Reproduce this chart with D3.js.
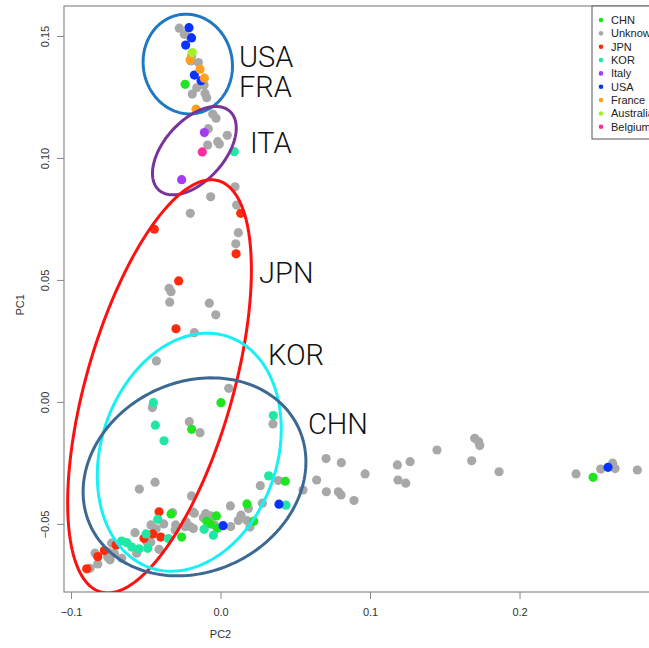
<!DOCTYPE html>
<html>
<head>
<meta charset="utf-8">
<script src="https://cdn.jsdelivr.net/npm/d3@7"></script>
<style>
  body { margin: 0; background: #fff; }
  svg { display: block; font-family: "Liberation Sans", Arial, sans-serif; }
</style>
</head>
<body>
<div id="chart"></div>
<script>
// groups in legend order
const groups = ["CHN", "Unknown", "JPN", "KOR", "Italy", "USA", "France", "Australia", "Belgium"];
const groupColors = ["#1ee61e", "#a8a8a8", "#ff2a0a", "#1ee8a4", "#a43cf0", "#0a32ff", "#ffa01e", "#a6f028", "#ff2ea0"];

// PC2 (x) / PC1 (y) per group
const chnPC2 = [-0.0237, 0.0003, -0.0193, 0.0433, 0.0177, -0.0028, -0.0092, 0.0222, -0.0068, -0.0021, -0.0260, -0.0331, 0.2492];
const chnPC1 = [0.1304, -0.0001, -0.0110, -0.0323, -0.0416, -0.0465, -0.0487, -0.0487, -0.0498, -0.0516, -0.0552, -0.0457, -0.0307];

const unkPC2 = [-0.0276, -0.0242, -0.0204, -0.0193, -0.0197, -0.0148, -0.0110, -0.0159, -0.0189, -0.0104, -0.0092, -0.0052, -0.0030, -0.0082, 0.0045, -0.0019, -0.0008, -0.0086, 0.0097, -0.0066,
  0.0108, -0.0202, 0.0119, 0.0102, -0.0344, -0.0331, -0.0340, -0.0075, -0.0032, -0.0175, -0.0429, -0.0456, 0.0055, -0.0209, -0.0137, 0.0351, 0.0387, 0.0266, 0.0643, 0.0552,
  -0.0194, 0.0066, 0.0186, 0.0280, -0.0184, -0.0099, -0.0066, 0.0137, -0.0115, 0.0119, 0.0177, -0.0231, -0.0041, 0.0068, -0.0182, -0.0204, 0.0197, -0.0237, -0.0543, -0.0438,
  -0.0320, -0.0380, -0.0465, -0.0431, -0.0300, -0.0304, -0.0175, -0.0572, -0.0494, -0.0728, -0.0467, -0.0411, -0.0561, -0.0661, -0.0710, -0.0744, -0.0755, -0.0839, -0.0821, -0.0873,
  -0.0739, 0.0706, 0.0808, 0.0708, 0.0788, 0.0806, 0.0893, 0.0967, 0.1183, 0.1268, 0.1187, 0.1239, 0.1448, 0.1700, 0.1727, 0.1734, 0.1680, 0.1863, 0.2378, 0.2543,
  0.2623, 0.2639, 0.2788];
const unkPC1 = [0.1534, 0.1509, 0.1498, 0.1421, 0.1400, 0.1393, 0.1301, 0.1290, 0.1264, 0.1267, 0.1249, 0.1182, 0.1165, 0.1122, 0.1095, 0.1069, 0.1059, 0.1055, 0.0884, 0.0843,
  0.0809, 0.0775, 0.0696, 0.0650, 0.0468, 0.0454, 0.0411, 0.0407, 0.0359, 0.0286, 0.0170, -0.0021, 0.0058, -0.0079, -0.0124, -0.0088, -0.0320, -0.0341, -0.0318, -0.0359,
  -0.0383, -0.0424, -0.0435, -0.0413, -0.0450, -0.0456, -0.0465, -0.0462, -0.0473, -0.0484, -0.0484, -0.0489, -0.0502, -0.0509, -0.0517, -0.0509, -0.0511, -0.0509, -0.0355, -0.0327,
  -0.0452, -0.0498, -0.0502, -0.0518, -0.0502, -0.0523, -0.0454, -0.0534, -0.0570, -0.0577, -0.0573, -0.0602, -0.0618, -0.0639, -0.0618, -0.0616, -0.0634, -0.0618, -0.0662, -0.0680,
  -0.0645, -0.0230, -0.0247, -0.0366, -0.0366, -0.0379, -0.0402, -0.0293, -0.0256, -0.0243, -0.0318, -0.0331, -0.0195, -0.0147, -0.0161, -0.0177, -0.0239, -0.0284, -0.0293, -0.0273,
  -0.0249, -0.0271, -0.0277];

const jpnPC2 = [0.0135, -0.0443, 0.0104, -0.0280, -0.0298, -0.0411, -0.0454, -0.0400, -0.0512, -0.0699, -0.0777, -0.0821, -0.0895];
const jpnPC1 = [0.0775, 0.0710, 0.0609, 0.0498, 0.0302, -0.0448, -0.0539, -0.0552, -0.0557, -0.0584, -0.0607, -0.0632, -0.0682];

const korPC2 = [0.0092, -0.0449, -0.0436, -0.0378, 0.0353, 0.0322, 0.0438, -0.0110, -0.0048, -0.0420, -0.0498, -0.0349, -0.0661, -0.0627, -0.0594, -0.0545, -0.0487];
const korPC1 = [0.1028, -0.0001, -0.0093, -0.0157, -0.0054, -0.0301, -0.0421, -0.0520, -0.0544, -0.0479, -0.0539, -0.0558, -0.0568, -0.0575, -0.0593, -0.0600, -0.0598];

const itaPC2 = [-0.0108, -0.0260];
const itaPC1 = [0.1106, 0.0913];

const usaPC2 = [-0.0211, -0.0194, -0.0233, -0.0175, -0.0130, 0.0391, 0.0017, 0.2592];
const usaPC1 = [0.1536, 0.1494, 0.1465, 0.1342, 0.1319, -0.0417, -0.0505, -0.0266];

const fraPC2 = [-0.0204, -0.0137, -0.0108, -0.0164];
const fraPC1 = [0.1404, 0.1366, 0.1329, 0.1202];

const ausPC2 = [-0.0189];
const ausPC1 = [0.1434];

const belPC2 = [-0.0122];
const belPC1 = [0.1027];

// ellipses: centre and two semi-axis vectors, in data units
const ellipseNames = ["USA", "ITA", "JPN", "KOR", "CHN"];
const ellipseColors = ["#1f78c1", "#7a3399", "#ff1010", "#19f0f5", "#3c6894"];
const ellipseCenters = [[-0.0219, 0.1387], [-0.0175, 0.1032], [-0.0408, 0.0066], [-0.0209, -0.0204], [-0.0174, -0.0305]];
const ellipseAxisU = [[-0.00582, 0.02018], [0.02372, 0.01614], [0.03943, 0.08427], [0.02589, 0.04741], [0.06914, 0.02066]];
const ellipseAxisV = [[0.02932, 0.00317], [0.01491, -0.00823], [0.04713, -0.00828], [0.05582, -0.01144], [0.02780, -0.03492]];

// text labels next to the ellipses
const labelTexts = ["USA", "FRA", "ITA", "JPN", "KOR", "CHN"];
const labelPC2 = [0.0124, 0.0124, 0.0197, 0.0258, 0.0318, 0.0585];
const labelPC1 = [0.1376, 0.1253, 0.1023, 0.0488, 0.0154, -0.0129];

const xTicks = [-0.1, 0.0, 0.1, 0.2];
const yTicks = [-0.05, 0.00, 0.05, 0.10, 0.15];

const width = 649, height = 648;
const margin = { left: 64, top: 6 };
const plotW = 640, plotH = 586;

const x = d3.scaleLinear().domain([-0.1047, 0.3234]).range([margin.left, margin.left + plotW]);
const y = d3.scaleLinear().domain([-0.0777, 0.1625]).range([margin.top + plotH, margin.top]);

const svg = d3.select("#chart").append("svg")
    .attr("width", width)
    .attr("height", height)
    .attr("viewBox", [0, 0, width, height]);

svg.append("rect").attr("width", width).attr("height", height).attr("fill", "#fff");

svg.append("clipPath").attr("id", "plot-clip")
  .append("rect")
    .attr("x", margin.left).attr("y", margin.top)
    .attr("width", plotW).attr("height", plotH);

// axes
const xAxis = svg.append("g")
    .attr("transform", `translate(0,${margin.top + plotH})`)
    .call(d3.axisBottom(x).tickValues(xTicks).tickFormat(d3.format(".1f")).tickSize(7).tickSizeOuter(0));
const yAxis = svg.append("g")
    .attr("transform", `translate(${margin.left},0)`)
    .call(d3.axisLeft(y).tickValues(yTicks).tickFormat(d3.format(".2f")).tickSize(7).tickSizeOuter(0));

[xAxis, yAxis].forEach(g => {
  g.select(".domain").remove();
  g.selectAll("line").attr("stroke", "#8a8a8a");
  g.selectAll("text").attr("fill", "#333").attr("font-size", 11);
});
xAxis.selectAll("text").attr("dy", null).attr("y", 24);
yAxis.selectAll("text")
    .attr("text-anchor", "middle")
    .attr("x", null).attr("dy", null)
    .attr("transform", d => `translate(-15,${y(d)}) rotate(-90)`)
    .attr("y", 0);
yAxis.selectAll(".tick").attr("transform", null);
yAxis.selectAll(".tick line").attr("y1", d => y(d)).attr("y2", d => y(d));

// frame
svg.append("rect")
    .attr("x", margin.left).attr("y", margin.top)
    .attr("width", plotW).attr("height", plotH)
    .attr("fill", "none").attr("stroke", "#8a8a8a").attr("stroke-width", 1.2);

svg.append("text").attr("x", x(0.0)).attr("y", 638)
    .attr("text-anchor", "middle").attr("font-size", 11).attr("fill", "#333").text("PC2");
svg.append("text").attr("transform", `translate(24,${y(0.04)}) rotate(-90)`)
    .attr("text-anchor", "middle").attr("font-size", 11).attr("fill", "#333").text("PC1");

const plot = svg.append("g").attr("clip-path", "url(#plot-clip)");

// points
const pc2s = [chnPC2, unkPC2, jpnPC2, korPC2, itaPC2, usaPC2, fraPC2, ausPC2, belPC2];
const pc1s = [chnPC1, unkPC1, jpnPC1, korPC1, itaPC1, usaPC1, fraPC1, ausPC1, belPC1];
const points = [];
groups.forEach((g, gi) => {
  pc2s[gi].forEach((v, i) => points.push({ group: g, color: groupColors[gi], pc2: v, pc1: pc1s[gi][i] }));
});
// unknown samples go underneath the labelled ones
points.sort((a, b) => (b.group === "Unknown") - (a.group === "Unknown"));

plot.selectAll("circle.pt")
  .data(points)
  .join("circle")
    .attr("class", "pt")
    .attr("cx", d => x(d.pc2))
    .attr("cy", d => y(d.pc1))
    .attr("r", 4.6)
    .attr("fill", d => d.color);

// ellipses
const ellipseLine = d3.line().curve(d3.curveLinearClosed);
const angles = d3.range(0, 2 * Math.PI, Math.PI / 90);
ellipseNames.forEach((name, i) => {
  const c = ellipseCenters[i], u = ellipseAxisU[i], v = ellipseAxisV[i];
  const pts = angles.map(t => [
    x(c[0] + u[0] * Math.cos(t) + v[0] * Math.sin(t)),
    y(c[1] + u[1] * Math.cos(t) + v[1] * Math.sin(t))
  ]);
  plot.append("path")
      .attr("d", ellipseLine(pts))
      .attr("fill", "none")
      .attr("stroke", ellipseColors[i])
      .attr("stroke-width", 3);
});

// ellipse labels
svg.selectAll("text.grp")
  .data(labelTexts)
  .join("text")
    .attr("class", "grp")
    .attr("x", (d, i) => x(labelPC2[i]))
    .attr("y", (d, i) => y(labelPC1[i]))
    .attr("font-family", "Roboto, 'Open Sans', sans-serif")
    .attr("font-weight", 300)
    .attr("font-size", 29)
    .attr("fill", "#111")
    .text(d => d);

// legend
const legend = svg.append("g");
legend.append("rect")
    .attr("x", 592).attr("y", margin.top)
    .attr("width", 100).attr("height", 133)
    .attr("fill", "#fff").attr("stroke", "#555").attr("stroke-width", 1);
groups.forEach((g, i) => {
  const ly = 20 + i * 13.35;
  legend.append("circle").attr("cx", 601).attr("cy", ly).attr("r", 2.3).attr("fill", groupColors[i]);
  legend.append("text").attr("x", 611).attr("y", ly + 4).attr("font-size", 11).attr("fill", "#222").text(g);
});
</script>
</body>
</html>
